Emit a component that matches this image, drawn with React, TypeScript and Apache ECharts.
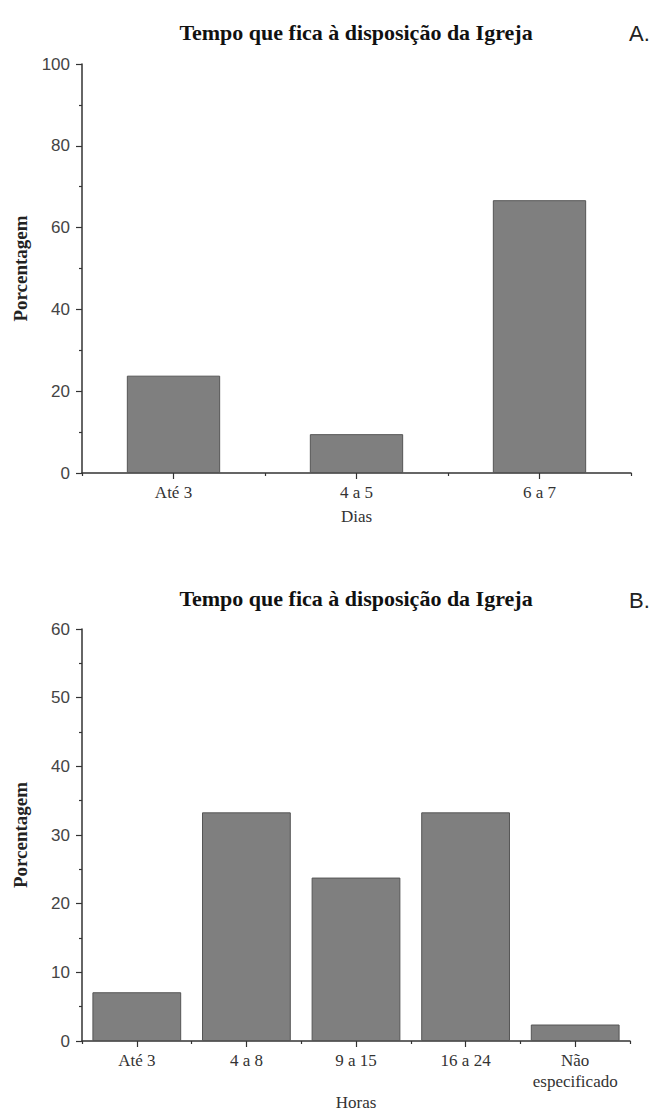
import React, { useEffect, useRef } from "react";
import * as echarts from "echarts";

const titleText = "Tempo que fica à disposição da Igreja";
const panelLabels = ["A.", "B."];
const daysCategories = ["Até 3", "4 a 5", "6 a 7"];
const daysValues = [23.8, 9.5, 66.7];
const hoursCategories = ["Até 3", "4 a 8", "9 a 15", "16 a 24", "Não\nespecificado"];
const hoursValues = [7.1, 33.3, 23.8, 33.3, 2.4];
const yAxisA = { min: 0, max: 100, interval: 20 };
const yAxisB = { min: 0, max: 60, interval: 10 };
const xNameA = "Dias";
const xNameB = "Horas";
const yName = "Porcentagem";

const AXIS_COLOR = "#333";
const BAR_COLOR = "#7f7f7f";
const SERIF = '"Liberation Serif", "Times New Roman", serif';
const SANS = '"Liberation Sans", Arial, sans-serif';

function mainX(grid: number, data: string[], name: string, gap: number) {
  return {
    type: "category",
    gridIndex: grid,
    data,
    position: "bottom",
    axisLine: { show: true, lineStyle: { color: AXIS_COLOR, width: 1.5 } },
    axisTick: { show: true, alignWithLabel: true, length: 6, lineStyle: { color: AXIS_COLOR, width: 1.2 } },
    axisLabel: { margin: 9, fontFamily: SERIF, fontSize: 17, color: "#333", lineHeight: 21, interval: 0 },
    name,
    nameLocation: "middle",
    nameGap: gap,
    nameTextStyle: { fontFamily: SERIF, fontSize: 17, color: "#333" },
    splitLine: { show: false },
  };
}

function boundaryX(grid: number, data: string[]) {
  return {
    type: "category",
    gridIndex: grid,
    data,
    position: "bottom",
    axisLine: { show: false },
    axisTick: { show: true, alignWithLabel: false, length: 3, lineStyle: { color: AXIS_COLOR, width: 1.2 } },
    axisLabel: { show: false },
    splitLine: { show: false },
  };
}

function yAx(grid: number, cfg: { min: number; max: number; interval: number }) {
  return {
    type: "value",
    gridIndex: grid,
    min: cfg.min,
    max: cfg.max,
    interval: cfg.interval,
    axisLine: { show: true, lineStyle: { color: AXIS_COLOR, width: 1.5 } },
    axisTick: { show: true, length: 6, lineStyle: { color: AXIS_COLOR, width: 1.2 } },
    minorTick: { show: true, splitNumber: 2, length: 3, lineStyle: { color: AXIS_COLOR, width: 1.2 } },
    axisLabel: { margin: 12, fontFamily: SANS, fontSize: 17, color: "#444" },
    splitLine: { show: false },
    minorSplitLine: { show: false },
    name: yName,
    nameLocation: "middle",
    nameRotate: 90,
    nameGap: 52,
    nameTextStyle: { fontFamily: SERIF, fontSize: 19, fontWeight: "bold", color: "#222" },
  };
}

export default function App() {
  const ref = useRef<HTMLDivElement>(null);
  useEffect(() => {
    document.body.style.margin = "0";
    const chart = echarts.init(ref.current!, null, { renderer: "svg" });
    const barStyle = { color: BAR_COLOR, borderColor: "#555", borderWidth: 1 };
    chart.setOption({
      animation: false,
      backgroundColor: "#fff",
      grid: [
        { left: 82, width: 549, top: 64, height: 409 },
        { left: 82, width: 548, top: 629, height: 412 },
      ],
      xAxis: [
        mainX(0, daysCategories, xNameA, 35),
        boundaryX(0, daysCategories),
        mainX(1, hoursCategories, xNameB, 53),
        boundaryX(1, hoursCategories),
      ],
      yAxis: [yAx(0, yAxisA), yAx(1, yAxisB)],
      series: [
        { type: "bar", xAxisIndex: 0, yAxisIndex: 0, data: daysValues, barWidth: "51%", itemStyle: barStyle },
        { type: "bar", xAxisIndex: 2, yAxisIndex: 1, data: hoursValues, barWidth: "81%", itemStyle: barStyle },
      ],
      graphic: [
        { type: "text", x: 356, y: 32, style: { text: titleText, textAlign: "center", textVerticalAlign: "middle", font: `bold 22px ${SERIF}`, fill: "#111" } },
        { type: "text", x: 629, y: 33, style: { text: panelLabels[0], textAlign: "left", textVerticalAlign: "middle", font: `22px ${SANS}`, fill: "#222" } },
        { type: "text", x: 356, y: 598, style: { text: titleText, textAlign: "center", textVerticalAlign: "middle", font: `bold 22px ${SERIF}`, fill: "#111" } },
        { type: "text", x: 629, y: 600, style: { text: panelLabels[1], textAlign: "left", textVerticalAlign: "middle", font: `22px ${SANS}`, fill: "#222" } },
      ],
    });
    return () => chart.dispose();
  }, []);
  return <div ref={ref} style={{ width: 658, height: 1115 }} />;
}
